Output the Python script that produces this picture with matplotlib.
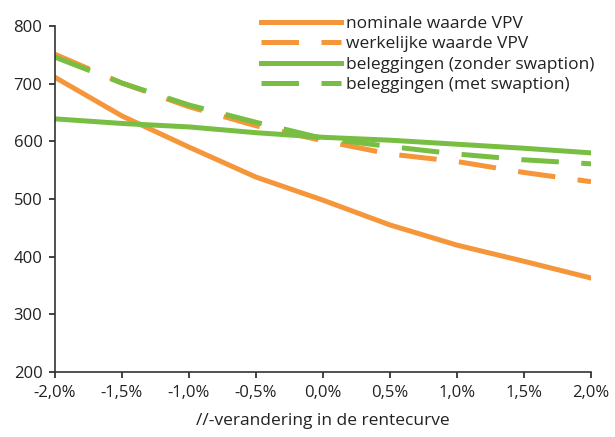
import matplotlib
matplotlib.use('Agg')
import matplotlib.pyplot as plt

# renteverandering (in %)
x_waarden = [-2.0, -1.5, -1.0, -0.5, 0.0, 0.5, 1.0, 1.5, 2.0]
x_labels = ['-2,0%', '-1,5%', '-1,0%', '-0,5%', '0,0%', '0,5%', '1,0%', '1,5%', '2,0%']

nominaal_vpv = [711, 644, 590, 538, 498, 455, 420, 392, 363]
werkelijk_vpv = [751, 701, 660, 627, 601, 578, 565, 546, 530]
beleg_zonder = [639, 631, 625, 615, 607, 602, 595, 588, 580]
beleg_met = [746, 701, 663, 633, 605, 591, 578, 568, 561]

oranje = '#F5963A'
groen = '#78BE43'

plt.rcParams['font.family'] = ['Open Sans', 'DejaVu Sans']

fig = plt.figure(figsize=(6.15, 4.37), dpi=100)
ax = fig.add_axes([0.0894, 0.1487, 0.8716, 0.7918])

lw = 3.6
ax.plot(x_waarden, nominaal_vpv, color=oranje, lw=lw, label='nominale waarde VPV')
ax.plot(x_waarden, werkelijk_vpv, color=oranje, lw=lw, dashes=(7.5, 4.5),
        label='werkelijke waarde VPV')
ax.plot(x_waarden, beleg_zonder, color=groen, lw=lw, label='beleggingen (zonder swaption)')
ax.plot(x_waarden, beleg_met, color=groen, lw=lw, dashes=(7.5, 4.5),
        label='beleggingen (met swaption)')

ax.set_xlim(-2.0, 2.0)
ax.set_ylim(200, 800)
ax.set_xticks(x_waarden)
ax.set_xticklabels(x_labels)
ax.set_yticks([200, 300, 400, 500, 600, 700, 800])

for s in ['top', 'right']:
    ax.spines[s].set_visible(False)
for s in ['left', 'bottom']:
    ax.spines[s].set_color('#333333')
    ax.spines[s].set_linewidth(1.2)
ax.tick_params(axis='both', labelsize=12, colors='#222222', length=4, width=1.2, pad=5)
ax.set_xlabel('//-verandering in de rentecurve', fontsize=12.5, color='#222222', labelpad=9)

leg = ax.legend(loc='upper right', bbox_to_anchor=(1.035, 1.075), frameon=False,
                fontsize=12.5, handlelength=4.6, handletextpad=0.3, labelspacing=0.25)
for t in leg.get_texts():
    t.set_color('#222222')

fig.savefig('out.png', dpi=100)
